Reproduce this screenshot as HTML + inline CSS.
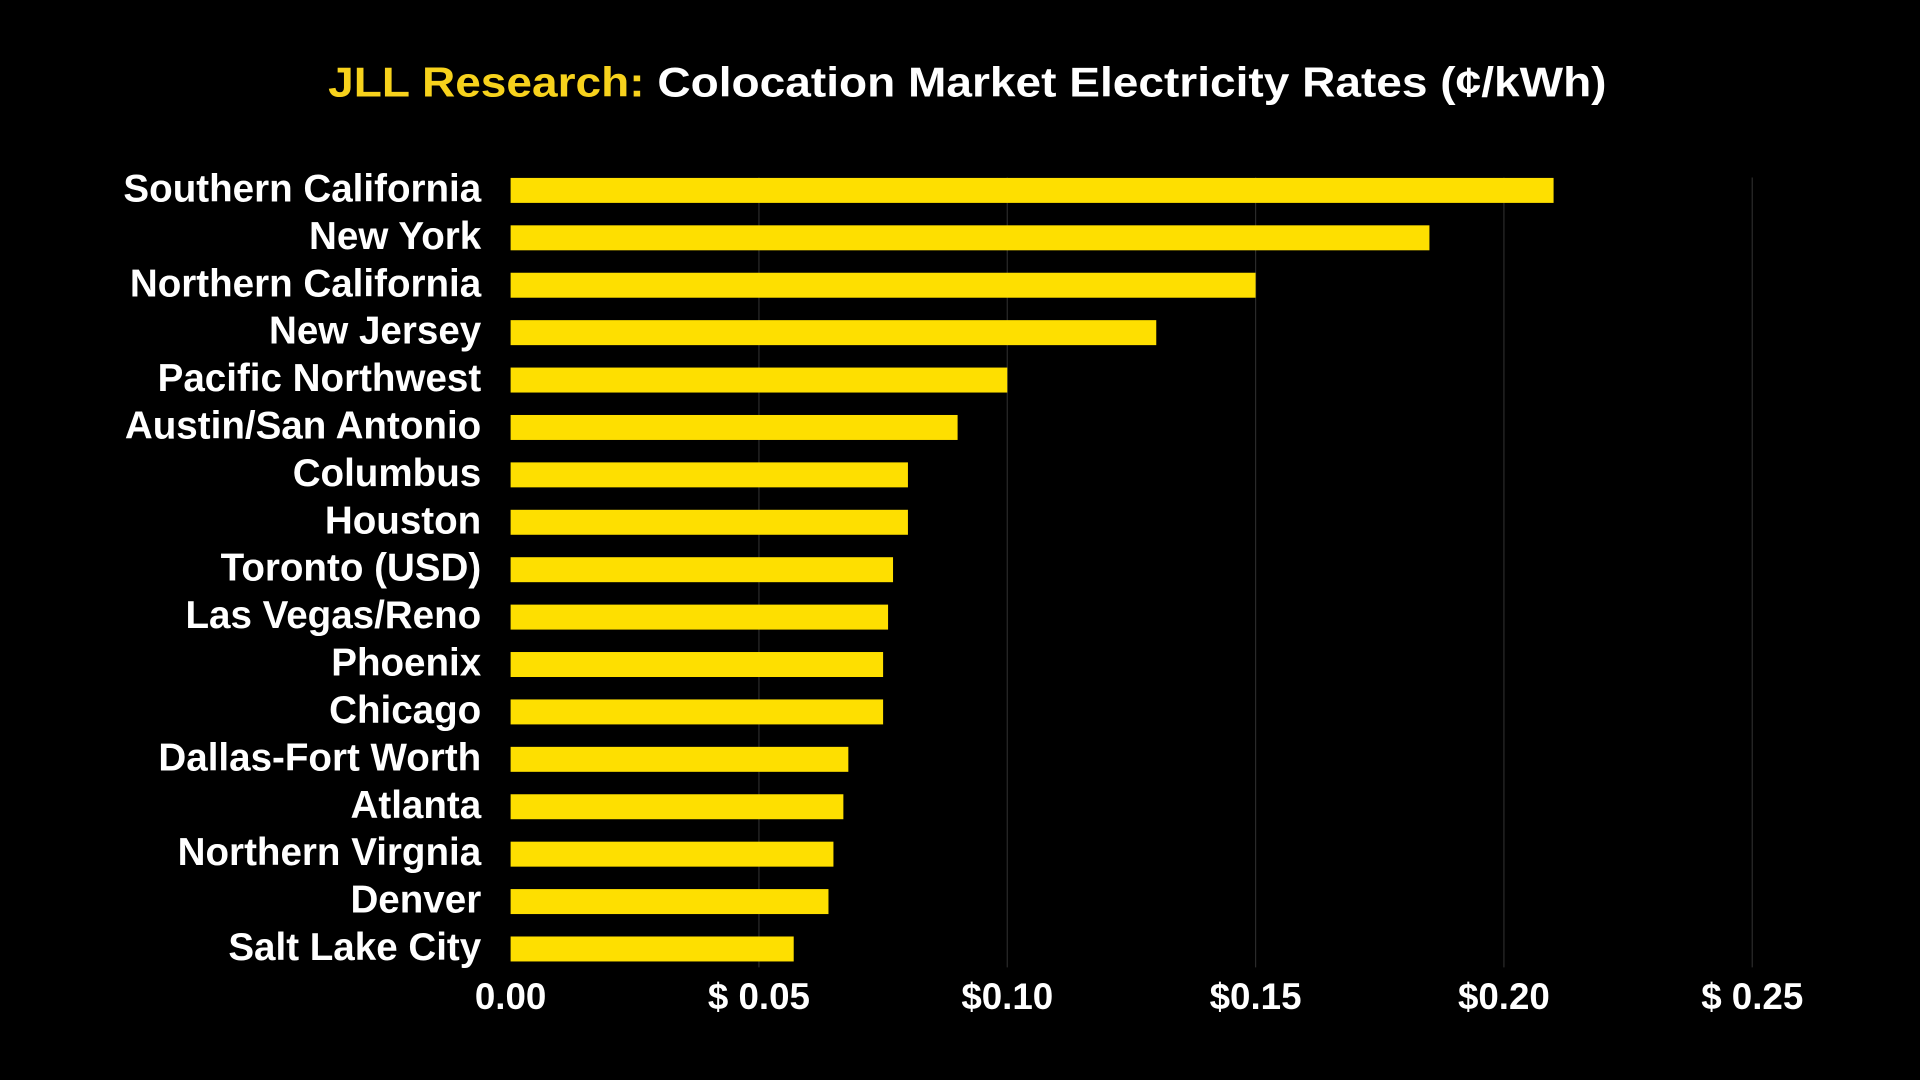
<!DOCTYPE html>
<html><head><meta charset="utf-8"><style>
html,body{margin:0;padding:0;background:#000;}
svg{display:block;}
text{font-family:"Liberation Sans",sans-serif;font-weight:bold;}
</style></head><body>
<svg id="chart" width="1920" height="1080" viewBox="0 0 1568 882" xmlns="http://www.w3.org/2000/svg">
<rect width="1568" height="882" fill="#000"/>
<text x="790" y="79" text-anchor="middle" font-size="34" fill="#fff" textLength="1044" lengthAdjust="spacingAndGlyphs"><tspan fill="#f7d21c">JLL Research:</tspan> Colocation Market Electricity Rates (¢/kWh)</text>
<g id="grid"></g><g id="bars"></g><g id="labels"></g><g id="ticks"></g>
</svg>
<script>
const categories = ["Southern California","New York","Northern California","New Jersey","Pacific Northwest","Austin/San Antonio","Columbus","Houston","Toronto (USD)","Las Vegas/Reno","Phoenix","Chicago","Dallas-Fort Worth","Atlanta","Northern Virgnia","Denver","Salt Lake City"];
const values = [0.21,0.185,0.15,0.13,0.10,0.09,0.08,0.08,0.077,0.076,0.075,0.075,0.068,0.067,0.065,0.064,0.057];
const tickValues = [0,0.05,0.10,0.15,0.20,0.25];
const tickLabels = ["0.00","$ 0.05","$0.10","$0.15","$0.20","$ 0.25"];

const NS="http://www.w3.org/2000/svg";
const x0=417, pxPerUnit=(1431-417)/0.25;
function xScale(v){return x0+v*pxPerUnit;}
const yTop=155.5, step=(775-155.5)/16;
function yScale(i){return yTop+i*step;}
const grid=document.getElementById('grid'), bars=document.getElementById('bars'),
 labels=document.getElementById('labels'), ticks=document.getElementById('ticks');
tickValues.forEach((v,i)=>{
  if(i>0){
    const l=document.createElementNS(NS,'line');
    
    
    l.setAttribute('x1',xScale(v));l.setAttribute('x2',xScale(v));
    l.setAttribute('y1',145);l.setAttribute('y2',790);
    l.setAttribute('stroke','#2a2a2a');l.setAttribute('stroke-width','1');
    grid.appendChild(l);
  }
  const t=document.createElementNS(NS,'text');
  
  
  t.setAttribute('x',xScale(v));t.setAttribute('y',824);
  t.setAttribute('text-anchor','middle');t.setAttribute('font-size','30');t.setAttribute('fill','#fff');
  t.textContent=tickLabels[i];
  ticks.appendChild(t);
});
categories.forEach((c,i)=>{
  const r=document.createElementNS(NS,'rect');
  
  
  r.setAttribute('x',x0);r.setAttribute('y',yScale(i)-10.2);
  r.setAttribute('width',xScale(values[i])-x0);r.setAttribute('height',20.4);
  r.setAttribute('fill','#fedf00');
  bars.appendChild(r);
  const t=document.createElementNS(NS,'text');
  
  
  t.setAttribute('x',393);t.setAttribute('y',yScale(i)+9);
  t.setAttribute('text-anchor','end');t.setAttribute('font-size','31.5');t.setAttribute('fill','#fff');
  t.textContent=c;
  labels.appendChild(t);
});
</script>
</body></html>
